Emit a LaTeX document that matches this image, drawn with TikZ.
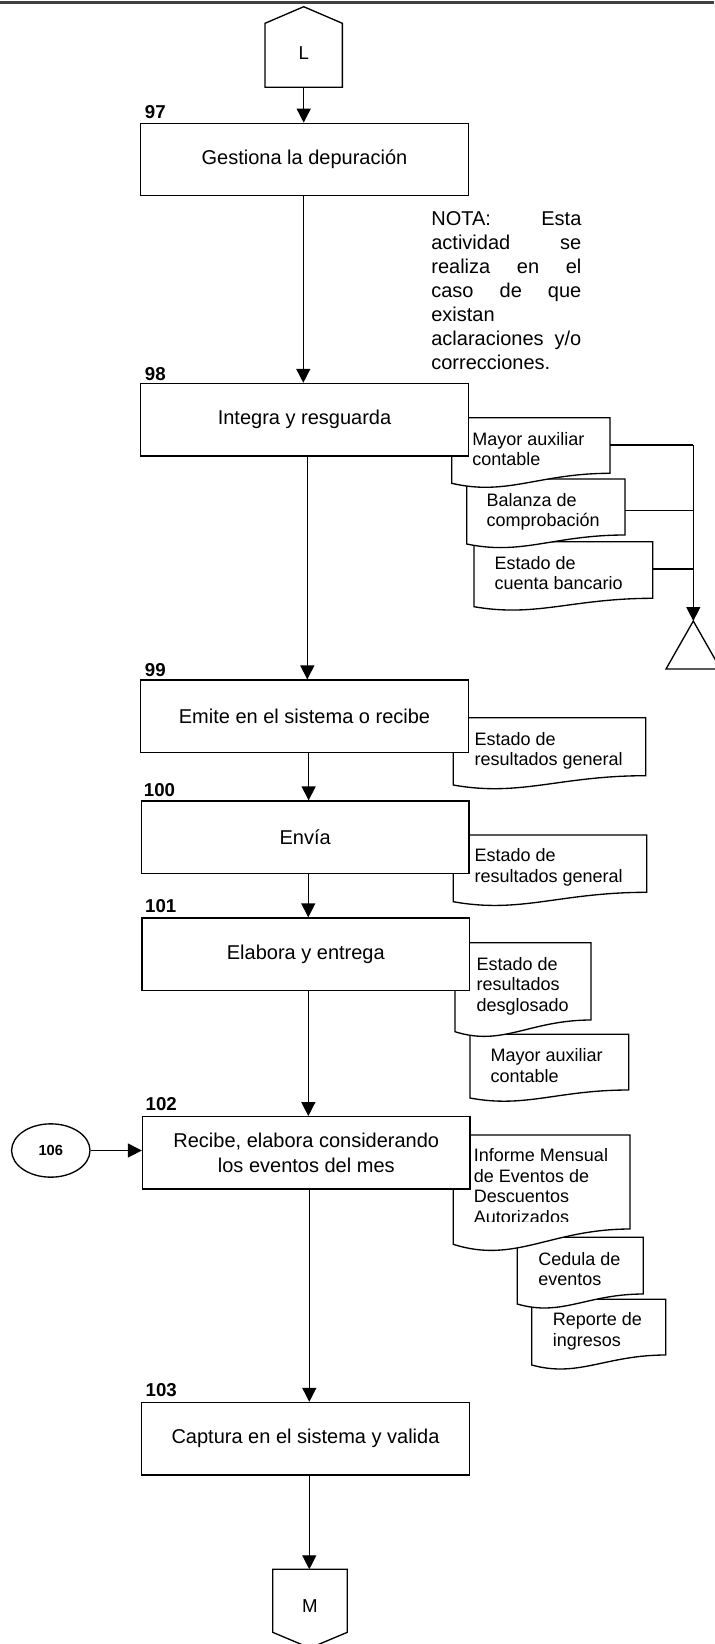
\documentclass[tikz,border=0pt]{standalone}
\usepackage{fontspec}
\setmainfont{Liberation Sans}
\usetikzlibrary{arrows.meta,calc,shapes.geometric}

% left-aligned stack of lines, baseline at the first line
\newcommand\stk[1]{\vtop{\halign{##\hfil\cr#1\crcr}}}
% one justified line of the note
\newcommand\jline[1]{\hbox to 112.5pt{#1}}
% document sheet: x-left, x-right, y-top, y-bottom right, y-bottom left
\newcommand\docsheet[5]{%
  \draw[docshape] (#1,#3) -- (#2,#3) -- (#2,#4)
    .. controls ({#1+0.55*(#2-#1)},#4) and ({#1+0.35*(#2-#1)},{#5+1.3*(#5-#4)}) .. (#1,#5) -- cycle;}

\begin{document}
\begin{tikzpicture}[x=0.75pt,y=-0.75pt,
  line width=1pt,
  box/.style={draw, fill=white, line width=1pt, minimum width=245.7pt,
    minimum height=54.3pt, inner sep=0pt, align=center,
    font=\fontsize{15pt}{18.2pt}\selectfont},
  num/.style={anchor=base west, inner sep=0pt,
    font=\fontsize{14pt}{16pt}\selectfont\bfseries},
  doctext/.style={anchor=base west, inner sep=0pt,
    font=\fontsize{13.5pt}{15.4pt}\selectfont},
  docshape/.style={draw, fill=white, line width=1pt, line join=miter},
  offtext/.style={inner sep=0pt, font=\fontsize{14pt}{16pt}\selectfont},
  arr/.style={line width=1pt, -{Triangle[length=10.5pt,width=10.5pt]}},
  wire/.style={line width=1pt},
]
\useasboundingbox (0,0) rectangle (714,1644);

% page rule
\draw[line width=2.2pt, black!75] (0,2.8) -- (714,2.8);

% off-page connector L
\node[offtext] (offL) at (303.7,53.3) {L};
\draw[wire] ($(offL)+(-38.65,34)$) -- ($(offL)+(-38.65,-30)$) -- ($(offL)+(0,-46.6)$)
  -- ($(offL)+(38.65,-30)$) -- ($(offL)+(38.65,34)$) -- cycle;
\coordinate (offLb) at ($(offL)+(0,34)$);

% 97
\node[box] (b97) at (304.5,159.5) {Gestiona la depuración};
\node[num] (n97) at (144.3,118.3) {97};

% note
\node[anchor=base west, inner sep=0pt, font=\fontsize{15pt}{17.9pt}\selectfont] (nota) at (430.7,226)
  {\vtop{\jline{NOTA:\hfill Esta}\jline{actividad\hfill se}\jline{realiza\hfill en\hfill el}%
  \jline{caso\hfill de\hfill que}\jline{existan\hfill}\jline{aclaraciones\hfill y/o}%
  \jline{correcciones.\hfill}}};

% 98 with its documents
\docsheet{474}{652.7}{541.7}{598.3}{606.7}
\node[doctext] (t98c) at (494,569) {\stk{Estado de\cr cuenta bancario}};
\docsheet{466.7}{625}{479}{535}{544}
\node[doctext] (t98b) at (486,506) {\stk{Balanza de\cr comprobación}};
\docsheet{451.7}{610}{417.7}{473.3}{483.3}
\node[doctext] (t98a) at (471.7,445) {\stk{Mayor auxiliar\cr contable}};
\node[box] (b98) at (304.5,419.7) {Integra y resguarda};
\node[num] (n98) at (144.3,380) {98};

% archive
\coordinate (d98a-e) at (610,445);
\coordinate (d98b-e) at (625,510.7);
\coordinate (d98c-e) at (652.7,569);
\coordinate (arch) at (693.3,621);
\draw[wire] (d98a-e) -- (d98a-e -| arch);
\draw[wire] (d98b-e) -- (d98b-e -| arch);
\draw[wire] (d98c-e) -- (d98c-e -| arch);
\draw[arr] (d98a-e -| arch) -- (arch);
\draw[wire] (arch) -- ($(arch)+(-27.3,48)$) -- ($(arch)+(27.3,48)$) -- cycle;

% 99
\docsheet{453.3}{645.7}{717.7}{775.7}{785}
\node[doctext] (t99) at (474,745) {\stk{Estado de\cr resultados general}};
\node[box] (b99) at (304.5,716.3) {Emite en el sistema o recibe};
\node[num] (n99) at (144.3,676.7) {99};

% 100
\docsheet{453.3}{646.7}{835}{892.3}{901.7}
\node[doctext] (t100) at (474,861.7) {\stk{Estado de\cr resultados general}};
\node[box] (b100) at (305.2,837.2) {Envía};
\node[num] (n100) at (143.3,796) {100};

% 101
\docsheet{470}{628.7}{1034.3}{1090}{1098}
\node[doctext] (t101b) at (490,1061.7) {\stk{Mayor auxiliar\cr contable}};
\docsheet{455}{591}{942.7}{1020}{1031.7}
\node[doctext] (t101a) at (476,970) {\stk{Estado de\cr resultados\cr desglosado}};
\node[box] (b101) at (305.8,954.2) {Elabora y entrega};
\node[num] (n101) at (144.5,912.7) {101};

% 102
\docsheet{531.7}{665.7}{1299.3}{1355}{1365}
\begin{scope}
  \clip (531.7,1299.3) rectangle (665.7,1349);
  \node[doctext] (t102c) at (552.3,1325.7) {\stk{Reporte de\cr ingresos}};
\end{scope}
\docsheet{517.3}{643.3}{1237.3}{1294}{1304}
\node[doctext] (t102b) at (537.7,1265) {\stk{Cedula de\cr eventos}};
\docsheet{453.3}{630}{1135}{1229}{1244.3}
\begin{scope}
  \clip (453.3,1135) rectangle (630,1221.7);
  \node[doctext] (t102a) at (473.3,1161.7)
    {\stk{Informe Mensual\cr de Eventos de\cr Descuentos\cr Autorizados}};
\end{scope}
\node[box] (b102) at (306.3,1152.9) {Recibe, elabora considerando\\los eventos del mes};
\node[num] (n102) at (145,1110) {102};
\node[draw, ellipse, line width=1pt, minimum width=58.8pt, minimum height=40pt, inner sep=0pt,
  font=\fontsize{11pt}{13pt}\selectfont\bfseries] (c106) at (50.8,1150.5) {106};

% 103
\node[box] (b103) at (305.5,1438.7) {Captura en el sistema y valida};
\node[num] (n103) at (145,1396.7) {103};

% off-page connector M
\node[offtext] (offM) at (310,1606.5) {M};
\draw[wire] ($(offM)+(-37.3,-37.2)$) -- ($(offM)+(37.3,-37.2)$) -- ($(offM)+(37.3,25.8)$)
  -- ($(offM)+(0,41.5)$) -- ($(offM)+(-37.3,25.8)$) -- cycle;
\coordinate (offMt) at ($(offM)+(0,-37.2)$);

% flow
\draw[arr] (offLb) -- (offLb |- b97.north);
\draw[arr] ([xshift=-0.9pt]b97.south) -- ([xshift=-0.9pt]b97.south |- b98.north);
\draw[arr] ([xshift=2.1pt]b98.south) -- ([xshift=2.1pt]b98.south |- b99.north);
\draw[arr] ([xshift=3.1pt]b99.south) -- ([xshift=3.1pt]b99.south |- b100.north);
\draw[arr] ([xshift=2.3pt]b100.south) -- ([xshift=2.3pt]b100.south |- b101.north);
\draw[arr] ([xshift=1.9pt]b101.south) -- ([xshift=1.9pt]b101.south |- b102.north);
\draw[arr] ([xshift=2.25pt]b102.south) -- ([xshift=2.25pt]b102.south |- b103.north);
\draw[arr] ([xshift=2.85pt]b103.south) -- ([xshift=2.85pt]b103.south |- offMt);
\draw[arr] (c106.east) -- (c106.east -| b102.west);
\end{tikzpicture}
\end{document}
